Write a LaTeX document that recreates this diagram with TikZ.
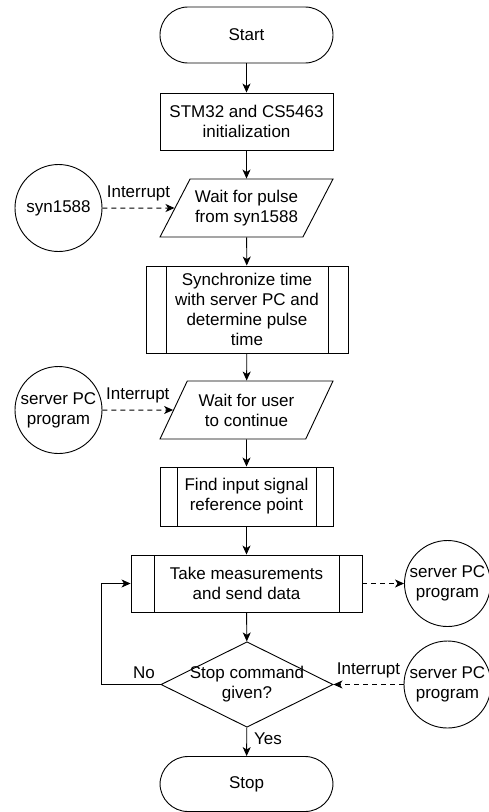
\documentclass[tikz,border=0pt]{standalone}
\usepackage{fontspec}
\setmainfont{Liberation Sans}
\usetikzlibrary{shapes.geometric}
\usetikzlibrary{arrows.meta}

\tikzset{
  flowtext/.style={font=\fontsize{17}{20}\selectfont, align=center, inner sep=0pt, line width=0.032cm},
  terminal/.style={flowtext, draw, rectangle, rounded corners=28pt, minimum width=173pt, minimum height=56pt},
  procbox/.style={flowtext, draw, rectangle, minimum width=173pt, minimum height=57pt},
  subproc/.style={procbox, path picture={%
      \draw[line width=0.032cm] ([xshift=#1]path picture bounding box.north west) -- ([xshift=#1]path picture bounding box.south west);%
      \draw[line width=0.032cm] ([xshift=-#1]path picture bounding box.north east) -- ([xshift=-#1]path picture bounding box.south east);}},
  iobox/.style={flowtext, draw, trapezium, trapezium left angle=50, trapezium right angle=130,
      trapezium stretches body=true, minimum width=173pt, minimum height=58pt},
  decision/.style={flowtext, draw, diamond, aspect=2, inner sep=-2.5pt, minimum width=172pt, minimum height=85pt},
  source/.style={flowtext, draw, circle, minimum size=87pt},
  flow/.style={line width=0.032cm, -{Stealth[length=9pt,width=8pt,inset=2.5pt]}},
  signal/.style={flow, line width=1pt, dash pattern=on 5pt off 4pt},
  tag/.style={font=\fontsize{17}{20}\selectfont, inner sep=1pt}
}

\begin{document}
\begin{tikzpicture}[x=1pt, y=-1pt]
                    \useasboundingbox (0,0) rectangle (489,812);

                    % main column
                    \node [terminal] (start) at (246.5,35) {Start};%
                    \node [procbox] (init) at (246.5,121.5) {STM32 and CS5463\\initialization};%
                    \node [iobox] (waitpulse) at (246.5,208) {Wait for pulse\\from syn1588};%
                    \node [subproc=20pt, minimum width=202pt, minimum height=87pt] (sync) at (247,309.5)
                        {Synchronize time\\with server PC and\\determine pulse\\time};%
                    \node [iobox] (waituser) at (246.5,410) {Wait for user\\to continue};%
                    \node [subproc=17pt, minimum height=59pt] (findref) at (246.5,496.5) {Find input signal\\reference point};%
                    \node [subproc=23pt, minimum width=231pt] (measure) at (246.5,583.5) {Take measurements\\and send data};%
                    \node [decision] (stopq) at (247,684.5) {Stop command\\given?};%
                    \node [terminal, minimum height=55pt] (stop) at (246.5,784) {Stop};%

                    % outside programs
                    \node [source] (syn) at (58.5,208) {syn1588};%
                    \node [source] (pcuser) at (58.5,410) {server PC\\program};%
                    \node [source, minimum size=86pt] (pcdata) at (447.5,583.5) {server PC\\program};%
                    \node [source] (pcstop) at (447.5,684.5) {server PC\\program};%

                    % flow
                    \draw [flow] (start) -- (init);%
                    \draw [flow] (init) -- (waitpulse);%
                    \draw [flow] (waitpulse) -- (sync);%
                    \draw [flow] (sync) -- (waituser);%
                    \draw [flow] (waituser) -- (findref);%
                    \draw [flow] (findref) -- (measure);%
                    \draw [flow] (measure) -- (stopq);%
                    \draw [flow] (stopq) -- node [tag, right=6pt, pos=0.4] {Yes} (stop);%
                    \draw [flow] (stopq.west) -- ++(-59,0) node [tag, above=4pt, pos=0.28] {No} |- (measure.west);%

                    % interrupts and data
                    \draw [signal] (syn) -- node [tag, above=5pt] {Interrupt} (waitpulse.west);%
                    \draw [signal] (pcuser) -- node [tag, above=5pt] {Interrupt} (waituser.west);%
                    \draw [signal] (measure) -- (pcdata);%
                    \draw [signal] (pcstop) -- node [tag, above=5pt] {Interrupt} (stopq);%

\end{tikzpicture}
\end{document}
